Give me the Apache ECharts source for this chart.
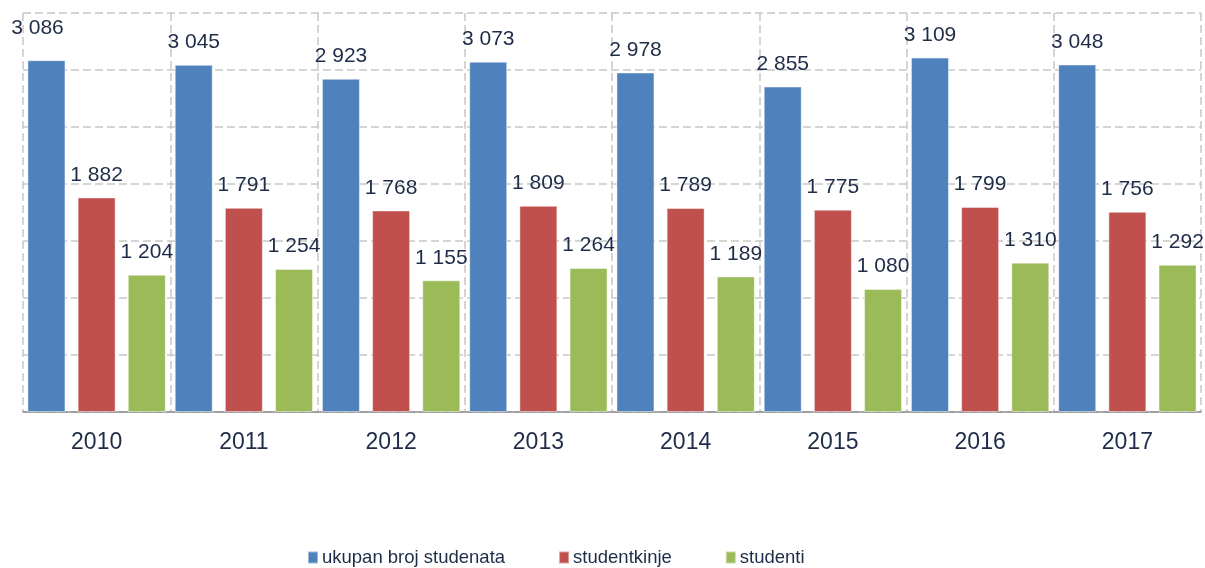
<!DOCTYPE html>
<html>
<head>
<meta charset="utf-8">
<script src="https://cdn.jsdelivr.net/npm/echarts@6/dist/echarts.min.js"></script>
<style>
html,body{margin:0;padding:0;background:#fff;}
#chart{width:1205px;height:568px;}
</style>
</head>
<body>
<div id="chart"></div>
<script>
const categories = ['2010','2011','2012','2013','2014','2015','2016','2017'];
const seriesNames = ['ukupan broj studenata','studentkinje','studenti'];
const ukupno = [3086, 3045, 2923, 3073, 2978, 2855, 3109, 3048];
const studentkinje = [1882, 1791, 1768, 1809, 1789, 1775, 1799, 1756];
const studenti = [1204, 1254, 1155, 1264, 1189, 1080, 1310, 1292];
const colors = ['#4F81BD', '#C0504D', '#9BBB59'];
const textColor = '#1E2C48';

function fmt(v){
  const s = String(v);
  return s.replace(/\B(?=(\d{3})+(?!\d))/g, ' ');
}

const allData = [ukupno, studentkinje, studenti];
const series = allData.map((arr, si) => ({
  name: seriesNames[si],
  type: 'bar',
  barWidth: 38,
  barGap: '32%',
  data: arr.map((v, i) => {
    if (si === 0 && i === 0) {
      return { value: v, label: { offset: [-9, -9] } };
    }
    return v;
  }),
  itemStyle: { color: colors[si], borderColor: 'rgba(255,255,255,0.45)', borderWidth: 1 },
  label: {
    show: true,
    position: 'top',
    distance: 12,
    color: textColor,
    fontSize: 21,
    fontFamily: 'Liberation Sans, Arial, sans-serif',
    formatter: p => fmt(p.value)
  }
}));

const chart = echarts.init(document.getElementById('chart'), null, {renderer: 'canvas'});
chart.setOption({
  animation: false,
  color: colors,
  grid: { left: 23, right: 4, top: 13, bottom: 156, containLabel: false },
  legend: {
    left: 307,
    top: 548,
    padding: 0,
    itemWidth: 10,
    itemHeight: 12,
    itemGap: 53,
    icon: 'rect',
    textStyle: { color: textColor, fontSize: 18.5, fontFamily: 'Liberation Sans, Arial, sans-serif', padding: [0, 0, 0, -1] },
    data: seriesNames
  },
  xAxis: {
    type: 'category',
    data: categories,
    axisLine: { show: true, lineStyle: { color: '#8f8f8f', width: 1.5 } },
    axisTick: { show: false },
    axisLabel: { color: textColor, fontSize: 23, margin: 19, fontFamily: 'Liberation Sans, Arial, sans-serif' },
    splitLine: { show: true, interval: 0, lineStyle: { color: '#c8c8c8', width: 1.5, type: [8, 4] } }
  },
  yAxis: {
    type: 'value',
    min: 0,
    max: 3500,
    interval: 500,
    axisLabel: { show: false },
    axisLine: { show: false },
    axisTick: { show: false },
    splitLine: { show: true, lineStyle: { color: '#c8c8c8', width: 1.5, type: [8, 4] } }
  },
  series: series
});
</script>
</body>
</html>
